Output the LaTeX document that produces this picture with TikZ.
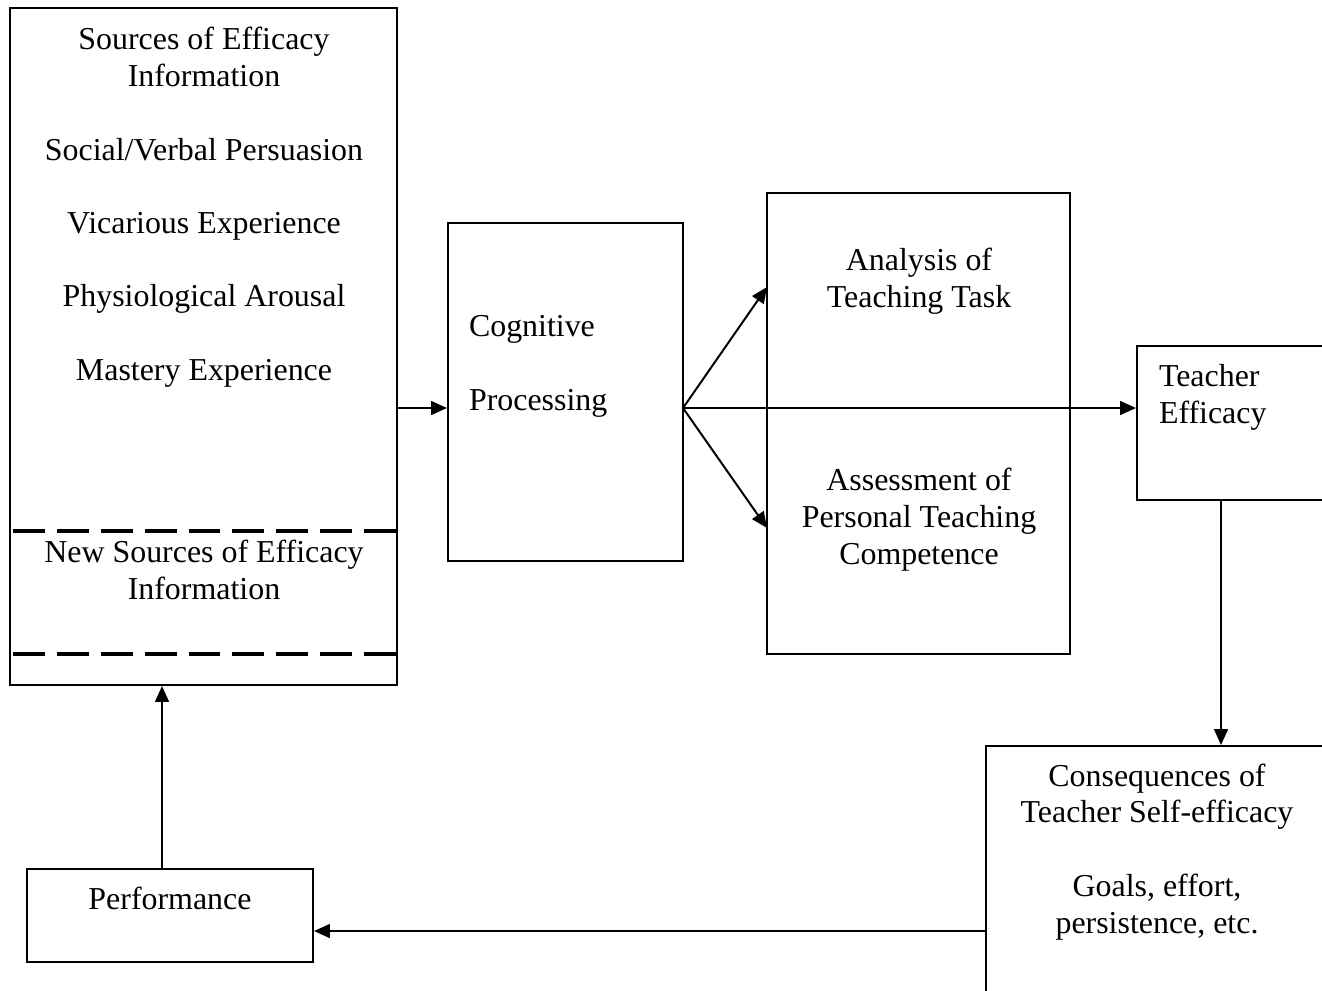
\documentclass[tikz,border=0pt]{standalone}
\usepackage{fontspec}
\setmainfont{Liberation Serif}
\usepackage{tikz}
\usetikzlibrary{arrows.meta,fit}

\tikzset{
  box/.style={draw, inner sep=0pt},
  txt/.style={inner sep=0pt, align=center, font=\fontsize{12}{13.8}\selectfont},
  arr/.style={-{Triangle[length=6pt,width=5.2pt]}},
  divider/.style={line width=1.5pt, dash pattern=on 12pt off 4.5pt}
}

\begin{document}
\begin{tikzpicture}[x=0.376pt, y=-0.376pt, line width=0.75pt]
      \useasboundingbox (0,0) rectangle (1322,990);

      \node[box, fit={(10,8) (397,685)}](src) {};
      \node[box, fit={(448,223) (683,561)}](cog) {};
      \node[box, fit={(767,193) (1070,654)}](ana) {};
      \node[box, fit={(1137,346) (1330,500)}](teff) {};
      \node[box, fit={(986,746) (1330,1000)}](cons) {};
      \node[box, fit={(27,869) (313,962)}](perf) {};

      \node[txt, anchor=base](srchead) at (204,86) {Sources of Efficacy\\Information};
      \node[txt, anchor=base](social)  at (204,160) {Social/Verbal Persuasion};
      \node[txt, anchor=base](vicar)   at (204,233) {Vicarious Experience};
      \node[txt, anchor=base](physio)  at (204,306) {Physiological Arousal};
      \node[txt, anchor=base](mastery) at (204,380) {Mastery Experience};
      \node[txt, anchor=base](newsrc)  at (204,599) {New Sources of Efficacy\\Information};

      \node[txt, anchor=base west, align=left](cogtxt) at (468,410) {Cognitive\\[13.8pt]Processing};
      \node[txt, anchor=base](analysis) at (919,307) {Analysis of\\Teaching Task};
      \node[txt, anchor=base](assess)   at (919,564) {Assessment of\\Personal Teaching\\Competence};
      \node[txt, anchor=base west, align=left](tefftxt) at (1158,423) {Teacher\\Efficacy};
      \node[txt, anchor=base](constxt)  at (1157,933) {Consequences of\\Teacher Self-efficacy\\[13.8pt]Goals, effort,\\persistence, etc.};
      \node[txt, anchor=base](perftxt)  at (170,909) {Performance};

      \draw[divider] (13,531) -- (src.east |- 0,531);
      \draw[divider] (13,654) -- (src.east |- 0,654);

      \coordinate(split) at (683,408);
      \coordinate(anatop) at (767,287);
      \coordinate(anabot) at (767,528);
      \coordinate(drop) at (1221,620);
      \coordinate(back) at (650,931);
      \coordinate(up) at (162,777);

      \draw[arr](src.east |- split) -- (cog.west |- split);
      \draw[arr](split) -- (anatop);
      \draw[arr](split) -- (anabot);
      \draw[arr](split) -- (teff.west |- split);
      \draw[arr](teff.south -| drop) -- (cons.north -| drop);
      \draw[arr](cons.west |- back) -- (perf.east |- back);
      \draw[arr](perf.north -| up) -- (src.south -| up);
    \end{tikzpicture}
\end{document}
